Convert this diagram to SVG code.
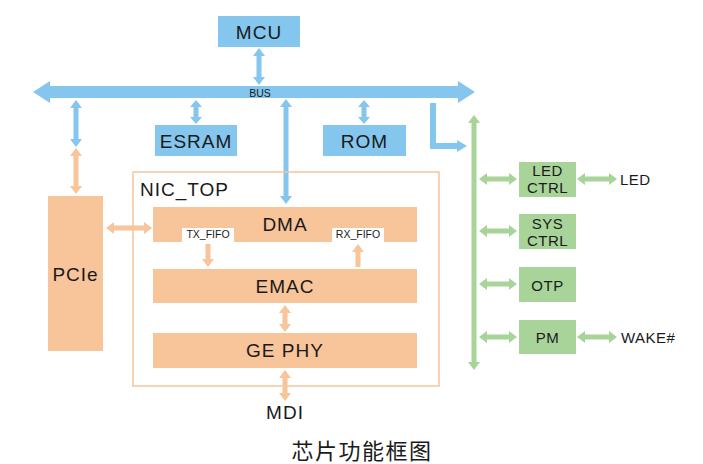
<svg xmlns="http://www.w3.org/2000/svg" width="703" height="464" viewBox="0 0 703 464">
<style>
.b{fill:#84C6EE}
.o{fill:#F8C49A}
.g{fill:#A8D49A}
text{font-family:"Liberation Sans",Arial,sans-serif;fill:#1a1a1a;text-anchor:middle}
.l{font-size:19px;letter-spacing:1px}
.m{font-size:15px;letter-spacing:0.5px}
.s{font-size:10.5px}
</style>
<defs>
<polygon id="gh" points="0,0 8,-6 8,-2.5 30,-2.5 30,-6 38,0 30,6 30,2.5 8,2.5 8,6"/>
<polygon id="gh2" points="0,0 8,-6 8,-2.5 32,-2.5 32,-6 40,0 32,6 32,2.5 8,2.5 8,6"/>
</defs>
<rect width="703" height="464" fill="#fff"/>
<g id="connectors">
<polygon class="b" points="33,92 50,81 50,86 458,86 458,81 475,92 458,103 458,98 50,98 50,103"/>
<polygon class="b" points="259,48 265,56 261.5,56 261.5,77 265,77 259,85 253,77 256.5,77 256.5,56 253,56"/>
<polygon class="b" points="76,100 82,108 78.5,108 78.5,139 82,139 76,147 70,139 73.5,139 73.5,108 70,108"/>
<polygon class="o" points="76,148 82,156 78.5,156 78.5,186 82,186 76,194 70,186 73.5,186 73.5,156 70,156"/>
<polygon class="b" points="196,100 202,107 198.5,107 198.5,117 202,117 196,124 190,117 193.5,117 193.5,107 190,107"/>
<polygon class="b" points="364,100 370,107 366.5,107 366.5,117 370,117 364,124 358,117 361.5,117 361.5,107 358,107"/>
<polygon class="b" points="286,99 292,107 288.5,107 288.5,196 292,196 286,204 280,196 283.5,196 283.5,107 280,107"/>
<path d="M433,103 V146 H458" fill="none" stroke="#84C6EE" stroke-width="6"/>
<polygon class="b" points="457,140 467,146 457,152"/>
<polygon class="o" points="106,228 114,222 114,225.5 144,225.5 144,222 152,228 144,234 144,230.5 114,230.5 114,234"/>
<polygon class="o" points="205.5,244 210.5,244 210.5,259 214,259 208,267 202,259 205.5,259"/>
<polygon class="o" points="358,244 364,252 360.5,252 360.5,267 355.5,267 355.5,252 352,252"/>
<polygon class="o" points="285,305 291,313 287.5,313 287.5,324 291,324 285,332 279,324 282.5,324 282.5,313 279,313"/>
<polygon class="o" points="285,370 291,378 287.5,378 287.5,393 291,393 285,401 279,393 282.5,393 282.5,378 279,378"/>
<polygon class="g" points="474,115 480,123 476.5,123 476.5,362 480,362 474,370 468,362 471.5,362 471.5,123 468,123"/>
<use href="#gh" class="g" x="479" y="179"/>
<use href="#gh" class="g" x="479" y="231"/>
<use href="#gh" class="g" x="479" y="284"/>
<use href="#gh" class="g" x="479" y="337"/>
<use href="#gh2" class="g" x="577" y="179"/>
<use href="#gh2" class="g" x="577" y="337"/>
<text class="s" x="260" y="97">BUS</text>
</g>
<g id="mcu"><rect class="b" x="218" y="16" width="82" height="31"/><text class="l" x="259" y="38.5">MCU</text></g>
<g id="esram"><rect class="b" x="155" y="125" width="82" height="31"/><text class="l" x="196" y="147.5">ESRAM</text></g>
<g id="rom"><rect class="b" x="323" y="125" width="83" height="31"/><text class="l" x="364.5" y="147.5">ROM</text></g>
<g id="nic_top"><rect x="133" y="172" width="306" height="214" fill="none" stroke="#F8C49A" stroke-width="1.5"/><text class="l" x="140" y="196" style="text-anchor:start">NIC_TOP</text></g>
<g id="pcie"><rect class="o" x="48" y="196" width="55" height="155"/><text class="l" x="75.5" y="281">PCIe</text></g>
<g id="dma"><rect class="o" x="153" y="207" width="264" height="35"/><text class="l" x="285" y="231">DMA</text></g>
<g id="tx_fifo"><rect x="182" y="228" width="52" height="14" fill="#fff"/><text class="s" x="208" y="238">TX_FIFO</text></g>
<g id="rx_fifo"><rect x="332" y="228" width="52" height="14" fill="#fff"/><text class="s" x="358" y="238">RX_FIFO</text></g>
<g id="emac"><rect class="o" x="153" y="269" width="264" height="34"/><text class="l" x="285" y="293">EMAC</text></g>
<g id="gephy"><rect class="o" x="153" y="333" width="264" height="35"/><text class="l" x="285" y="357">GE PHY</text></g>
<g id="mdi"><text class="l" x="285" y="419">MDI</text></g>
<g id="ledctrl"><rect class="g" x="519" y="162" width="57" height="35"/><text class="m" x="547.5" y="176">LED</text><text class="m" x="547.5" y="193">CTRL</text></g>
<g id="sysctrl"><rect class="g" x="519" y="214" width="57" height="35"/><text class="m" x="547.5" y="229">SYS</text><text class="m" x="547.5" y="246">CTRL</text></g>
<g id="otp"><rect class="g" x="519" y="267" width="57" height="35"/><text class="m" x="547.5" y="291">OTP</text></g>
<g id="pm"><rect class="g" x="519" y="320" width="57" height="34"/><text class="m" x="547.5" y="343">PM</text></g>
<g id="led"><text class="m" x="620" y="185" style="text-anchor:start">LED</text></g>
<g id="wake"><text class="m" x="621" y="343" style="text-anchor:start">WAKE#</text></g>
<g id="caption"><text x="362" y="459" style="font-family:'Noto Sans CJK SC','Liberation Sans',sans-serif;font-size:22px;letter-spacing:1.5px">芯片功能框图</text></g>
</svg>
